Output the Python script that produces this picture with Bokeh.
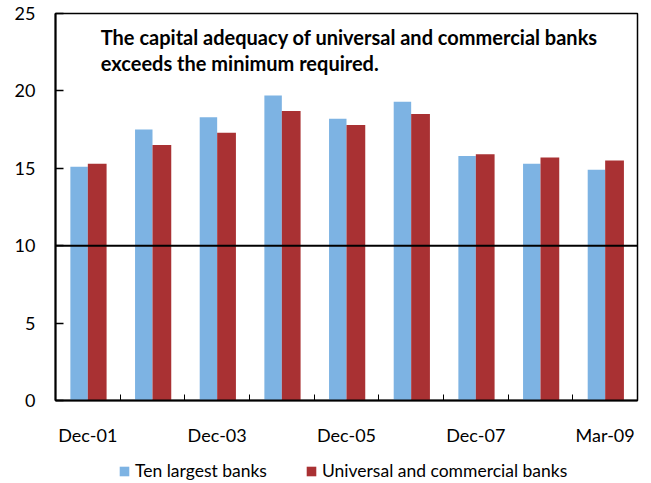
from bokeh.plotting import figure
from bokeh.layouts import column
from bokeh.models import ColumnDataSource, Span, Label, Legend, LegendItem, FixedTicker, Range1d
from bokeh.transform import dodge
from bokeh.embed import file_html
from bokeh.resources import INLINE

categories = ["Dec-01", "Dec-02", "Dec-03", "Dec-04", "Dec-05", "Dec-06", "Dec-07", "Dec-08", "Mar-09"]
ten_largest = [15.1, 17.5, 18.3, 19.7, 18.2, 19.3, 15.8, 15.3, 14.9]
universal = [15.3, 16.5, 17.3, 18.7, 17.8, 18.5, 15.9, 15.7, 15.5]
y_ticks = [0, 5, 10, 15, 20, 25]
minimum_required = 10
series_names = ["Ten largest banks", "Universal and commercial banks"]
series_colors = ["#7DB3E3", "#A93133"]
note_lines = ["The capital adequacy of universal and commercial banks",
              "exceeds the minimum required."]

x = list(range(1, len(categories) + 1))
src = ColumnDataSource(dict(x=x, ten=ten_largest, uni=universal, cat=categories))

FONT = "Lato"
p = figure(width=651, height=460, output_backend="svg", toolbar_location=None,
           x_range=Range1d(0.5, len(categories) + 0.5), y_range=Range1d(0, 25),
           min_border_left=55, min_border_right=14, min_border_top=13, min_border_bottom=60)
p.xgrid.visible = False
p.ygrid.visible = False
p.outline_line_color = "black"
p.outline_line_width = 1.5
p.background_fill_color = "white"

p.vbar(x=dodge("x", -0.135, range=p.x_range), top="ten", width=0.27, source=src,
       fill_color=series_colors[0], line_color=None)
p.vbar(x=dodge("x", 0.145, range=p.x_range), top="uni", width=0.29, source=src,
       fill_color=series_colors[1], line_color=None)

p.add_layout(Span(location=minimum_required, dimension="width", line_color="black", line_width=2))

# axes
xa = p.xaxis[0]
xa.ticker = FixedTicker(ticks=[x[i] for i in range(0, len(categories), 2)],
                        minor_ticks=[v + 0.5 for v in x[:-1]])
xa.major_label_overrides = {x[i]: categories[i] for i in range(0, len(categories), 2)}
xa.major_tick_line_color = None
xa.minor_tick_in = 6
xa.minor_tick_out = 0
xa.minor_tick_line_color = "black"
xa.minor_tick_line_width = 1
xa.axis_line_width = 2
xa.axis_line_color = "black"
xa.major_label_standoff = 17
xa.major_label_text_font = FONT
xa.major_label_text_font_size = "18px"
xa.major_label_text_color = "black"

ya = p.yaxis[0]
ya.ticker = FixedTicker(ticks=y_ticks, minor_ticks=[])
ya.major_tick_in = 8
ya.major_tick_out = 0
ya.major_tick_line_color = "black"
ya.major_tick_line_width = 1.5
ya.axis_line_width = 2
ya.axis_line_color = "black"
ya.major_label_standoff = 20
ya.major_label_text_font = FONT
ya.major_label_text_font_size = "18px"
ya.major_label_text_color = "black"

# annotation
for i, line in enumerate(note_lines):
    p.add_layout(Label(x=1.2, y=23.5 - i * 1.72, text=line, text_font=FONT,
                       text_font_style="bold", text_font_size="20px",
                       text_baseline="middle", text_color="black"))

# legend strip (zero-size proxy glyphs only carry the swatch colours)
lg = figure(width=651, height=23, output_backend="svg", toolbar_location=None,
            x_axis_type=None, y_axis_type=None, min_border=0,
            x_range=Range1d(0, 1), y_range=Range1d(0, 1))
lg.outline_line_color = None
lg.xgrid.visible = False
lg.ygrid.visible = False
items = []
for name, col in zip(series_names, series_colors):
    r = lg.vbar(x=[0], top=[0], bottom=[0], width=0, fill_color=col, line_color=None)
    items.append(LegendItem(label=name, renderers=[r]))
legend = Legend(items=items, orientation="horizontal", location=(63, 2),
                label_text_font=FONT, label_text_font_size="17.5px", label_text_color="black",
                glyph_width=12, glyph_height=12, label_standoff=5, spacing=38,
                padding=0, margin=0, border_line_color=None, background_fill_alpha=0)
lg.add_layout(legend)

open("out.html", "w").write(file_html(column(p, lg, spacing=0), INLINE))
